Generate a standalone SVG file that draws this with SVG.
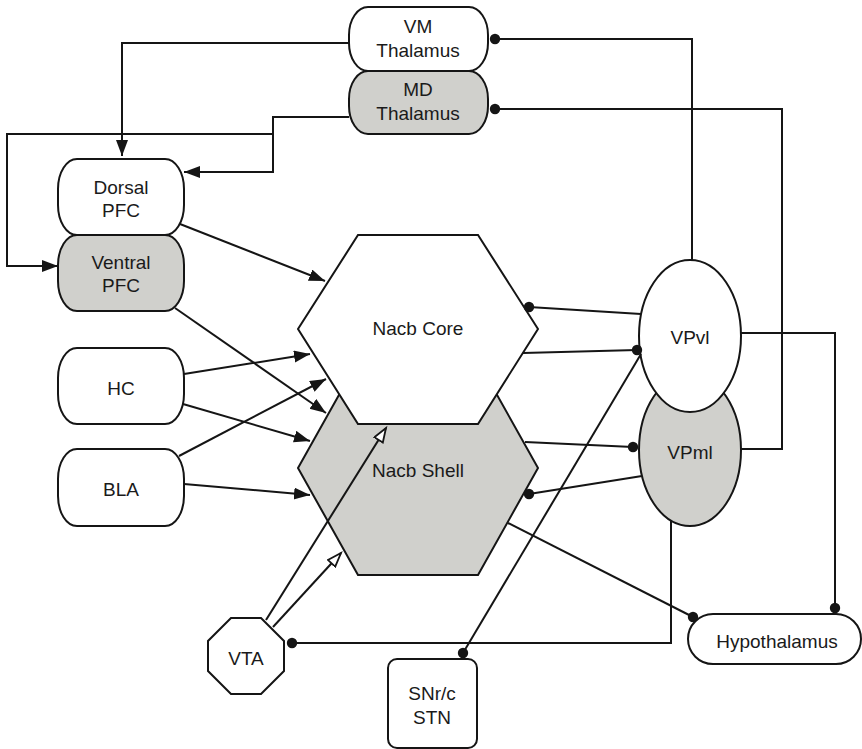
<svg xmlns="http://www.w3.org/2000/svg" width="862" height="749" viewBox="0 0 862 749">
  <style>
    .node { stroke: #151515; stroke-width: 2; fill: #ffffff; }
    .shade { fill: #d0d0cc; }
    .lbl { font-family: "Liberation Sans", Arial, sans-serif; font-size: 19px; fill: #1a1a1a; text-anchor: middle; }
    .wire { fill: none; stroke: #151515; stroke-width: 2; }
    .exc { marker-end: url(#solidHead); }
    .dop { marker-end: url(#openHead); }
    .inh { marker-end: url(#dotEnd); }
  </style>
  <defs>
    <marker id="solidHead" markerUnits="userSpaceOnUse" markerWidth="18" markerHeight="14" refX="16" refY="6" orient="auto" viewBox="0 0 18 14">
      <path d="M0,0 L16,6 L0,12 z" fill="#151515"/>
    </marker>
    <marker id="openHead" markerUnits="userSpaceOnUse" markerWidth="18" markerHeight="14" refX="15" refY="6" orient="auto" viewBox="0 0 18 14">
      <path d="M1,1 L15,6 L1,11 z" fill="#ffffff" stroke="#151515" stroke-width="1.8"/>
    </marker>
    <marker id="dotEnd" markerUnits="userSpaceOnUse" markerWidth="12" markerHeight="12" refX="6" refY="6" viewBox="0 0 12 12">
      <circle cx="6" cy="6" r="5.2" fill="#151515"/>
    </marker>
  </defs>

  <rect width="862" height="749" fill="#ffffff"/>

  <!-- Accumbens shell (drawn first, core overlaps it) -->
  <g id="nacb-shell">
    <polygon class="node shade" points="358,361 478,361 538,468 478,575 358,575 298,468"/>
    <text class="lbl" x="418" y="477">Nacb Shell</text>
  </g>
  <g id="nacb-core">
    <polygon class="node" points="358,235 478,235 538,329 478,424 358,424 298,329"/>
    <text class="lbl" x="418" y="335">Nacb Core</text>
  </g>

  <g id="md-thalamus">
    <rect class="node shade" x="349" y="71" width="139" height="63" rx="19" ry="28"/>
    <text class="lbl" x="418" y="96">MD</text>
    <text class="lbl" x="418" y="120">Thalamus</text>
  </g>
  <g id="vm-thalamus">
    <rect class="node" x="349" y="7" width="139" height="64" rx="19" ry="28"/>
    <text class="lbl" x="418" y="33">VM</text>
    <text class="lbl" x="418" y="57">Thalamus</text>
  </g>

  <g id="ventral-pfc">
    <rect class="node shade" x="58" y="235" width="126" height="76" rx="19" ry="30"/>
    <text class="lbl" x="121" y="269">Ventral</text>
    <text class="lbl" x="121" y="292">PFC</text>
  </g>
  <g id="dorsal-pfc">
    <rect class="node" x="58" y="159" width="126" height="76" rx="19" ry="30"/>
    <text class="lbl" x="121" y="194">Dorsal</text>
    <text class="lbl" x="121" y="217">PFC</text>
  </g>

  <g id="hc">
    <rect class="node" x="58" y="348" width="126" height="76" rx="19" ry="30"/>
    <text class="lbl" x="121" y="395">HC</text>
  </g>
  <g id="bla">
    <rect class="node" x="58" y="449" width="126" height="77" rx="19" ry="30"/>
    <text class="lbl" x="121" y="496">BLA</text>
  </g>

  <g id="vpml">
    <ellipse class="node shade" cx="690" cy="450" rx="51" ry="76"/>
    <text class="lbl" x="690" y="459">VPml</text>
  </g>
  <g id="vpvl">
    <ellipse class="node" cx="690" cy="336" rx="51" ry="76"/>
    <text class="lbl" x="690" y="344">VPvl</text>
  </g>

  <g id="vta">
    <polygon class="node" points="231,618 261,618 284,641 284,671 261,694 231,694 208,671 208,641"/>
    <text class="lbl" x="246" y="665">VTA</text>
  </g>

  <g id="snr-stn">
    <rect class="node" x="388" y="659" width="89" height="89" rx="9"/>
    <text class="lbl" x="432" y="700">SNr/c</text>
    <text class="lbl" x="432" y="724">STN</text>
  </g>

  <g id="hypothalamus">
    <rect class="node" x="688" y="614" width="173" height="50" rx="25"/>
    <text class="lbl" x="777" y="648">Hypothalamus</text>
  </g>

  <!-- Projections -->
  <g id="connectors">
    <!-- thalamocortical -->
    <path class="wire exc" d="M349,43 H122 V156"/>
    <path class="wire exc" d="M349,117 H273 V172 H184"/>
    <path class="wire exc" d="M273,134 H7 V266 H58"/>

    <!-- cortical / limbic inputs to accumbens -->
    <path class="wire exc" d="M180,224 L325,281"/>
    <path class="wire exc" d="M175,308 L326,413"/>
    <path class="wire exc" d="M184,374 L310,354"/>
    <path class="wire exc" d="M183,404 L310,441"/>
    <path class="wire exc" d="M179,456 L326,379"/>
    <path class="wire exc" d="M184,484 L310,495"/>

    <!-- dopaminergic -->
    <path class="wire dop" d="M266,620 L386,428"/>
    <path class="wire dop" d="M273,627 L341,553"/>

    <!-- inhibitory -->
    <path class="wire inh" d="M692,260 V39 H495"/>
    <path class="wire inh" d="M741,449 H782 V109 H495"/>
    <path class="wire inh" d="M641,314 L529,307"/>
    <path class="wire inh" d="M523,353 L637,350"/>
    <path class="wire inh" d="M525,442 L633,447"/>
    <path class="wire inh" d="M642,476 L529,494"/>
    <path class="wire inh" d="M741,333 H835 V608"/>
    <path class="wire inh" d="M508,523 L693,617"/>
    <path class="wire inh" d="M671,521 V643 H292"/>
    <path class="wire inh" d="M641,354 L463,653"/>
  </g>
</svg>
